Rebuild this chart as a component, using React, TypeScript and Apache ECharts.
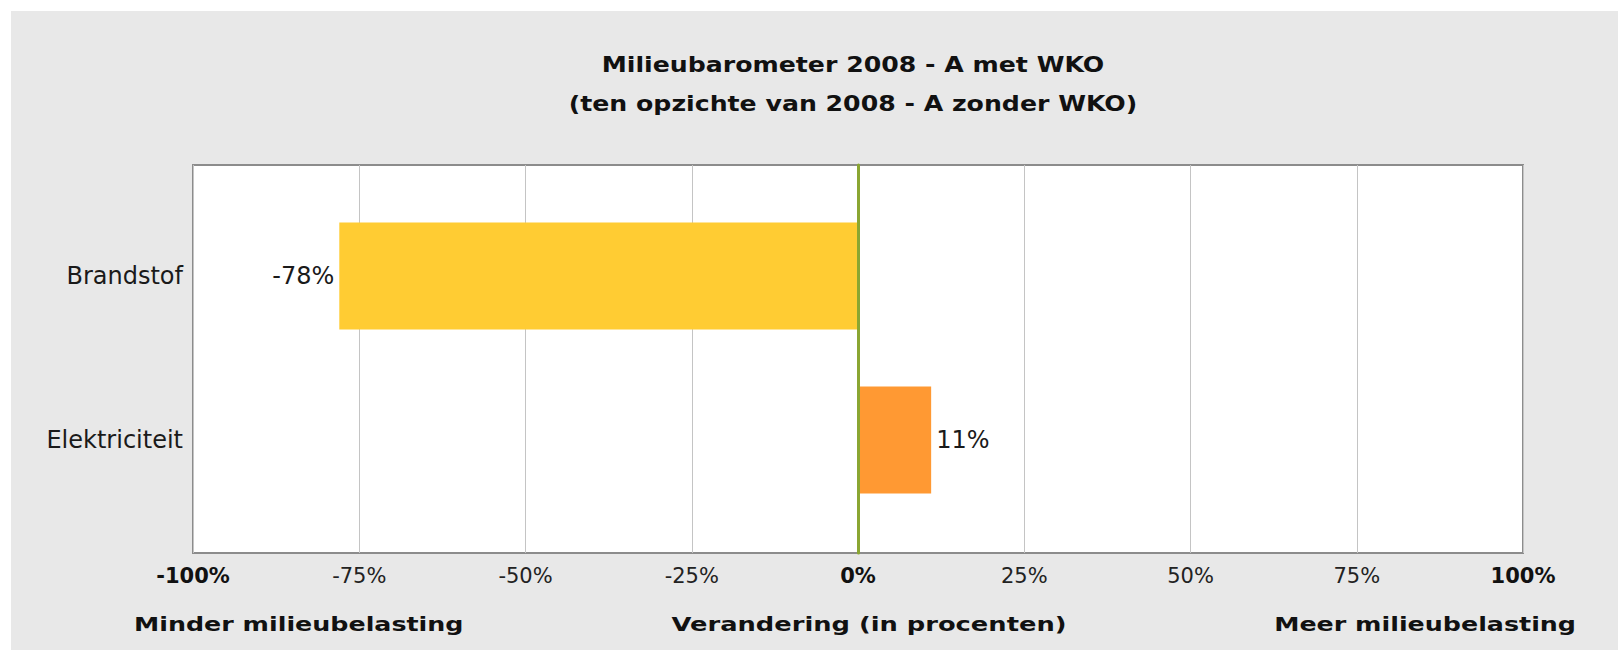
import React, { useEffect, useRef } from "react";
import * as echarts from "echarts";

const categories = ["Brandstof", "Elektriciteit"];
const changes = [-78, 11];
const barColors = ["#ffcc33", "#ff9933"];
const labelSides = ["left", "right"];
const axisMin = -100;
const axisMax = 100;
const axisStep = 25;
const boldTicks = [-100, 0, 100];
const titleLines = [
  "Milieubarometer 2008 - A met WKO",
  "(ten opzichte van 2008 - A zonder WKO)",
];
const footerLabels = [
  "Minder milieubelasting",
  "Verandering (in procenten)",
  "Meer milieubelasting",
];

const FONT = "'DejaVu Sans', Verdana, sans-serif";

export default function App() {
  const ref = useRef<HTMLDivElement>(null);

  useEffect(() => {
    if (!ref.current) return;
    const chart = echarts.init(ref.current, undefined, { renderer: "svg" });

    const textEl = (text: string, x: number, y: number, size: number, sx: number, align: string) => ({
      type: "text",
      x,
      y,
      scaleX: sx,
      style: {
        text,
        font: `bold ${size}px ${FONT}`,
        fill: "#111",
        textAlign: align,
        textVerticalAlign: "middle",
      },
    });

    const option: any = {
      animation: false,
      backgroundColor: "#e8e8e8",
      textStyle: { fontFamily: FONT },
      graphic: [
        textEl(titleLines[0], 842, 53.5, 21, 1.2, "center"),
        textEl(titleLines[1], 842, 92, 21, 1.2, "center"),
        textEl(footerLabels[0], 123, 613, 19.5, 1.3, "left"),
        textEl(footerLabels[1], 858, 613, 19.5, 1.32, "center"),
        textEl(footerLabels[2], 1565, 613, 19.5, 1.3, "right"),
      ],
      grid: [
        {
          left: 182,
          right: 95,
          top: 154,
          bottom: 97,
          show: true,
          backgroundColor: "#ffffff",
          borderColor: "#8c8c8c",
          borderWidth: 2,
        },
        {
          left: 182,
          right: 95,
          top: 183,
          bottom: 128,
        },
      ],
      xAxis: [
        {
          gridIndex: 0,
          type: "value",
          min: axisMin,
          max: axisMax,
          interval: axisStep,
          axisLine: { show: false },
          axisTick: { show: false },
          splitLine: { show: true, lineStyle: { color: "#c4c4c4", width: 1 } },
          axisLabel: {
            margin: 12,
            formatter: (v: number) =>
              boldTicks.includes(v) ? `{b|${v}%}` : `{n|${v}%}`,
            rich: {
              b: { fontFamily: FONT, fontSize: 21, fontWeight: "bold", color: "#111" },
              n: { fontFamily: FONT, fontSize: 21, color: "#222" },
            },
          },
        },
        {
          gridIndex: 1,
          type: "value",
          min: axisMin,
          max: axisMax,
          interval: axisStep,
          show: false,
          splitLine: { show: false },
        },
      ],
      yAxis: [
        {
          gridIndex: 0,
          type: "value",
          min: 0,
          max: 1,
          z: 10,
          axisLine: {
            show: true,
            onZero: true,
            lineStyle: { color: "#8aa632", width: 3 },
          },
          axisTick: { show: false },
          axisLabel: { show: false },
          splitLine: { show: false },
        },
        {
          gridIndex: 1,
          type: "category",
          inverse: true,
          data: categories,
          axisLine: { show: false },
          axisTick: { show: false },
          axisLabel: {
            margin: 10,
            fontFamily: FONT,
            fontSize: 24,
            color: "#1a1a1a",
          },
        },
      ],
      series: [
        {
          type: "bar",
          xAxisIndex: 1,
          yAxisIndex: 1,
          barWidth: 107,
          data: changes.map((v, i) => ({
            value: v,
            itemStyle: { color: barColors[i] },
            label: { position: labelSides[i] },
          })),
          label: {
            show: true,
            distance: 5,
            formatter: "{c}%",
            fontFamily: FONT,
            fontSize: 24,
            color: "#1a1a1a",
          },
        },
      ],
    };

    chart.setOption(option);
    return () => chart.dispose();
  }, []);

  return (
    <div
      ref={ref}
      style={{
        position: "absolute",
        left: 11,
        top: 11,
        width: 1607,
        height: 639,
      }}
    />
  );
}
